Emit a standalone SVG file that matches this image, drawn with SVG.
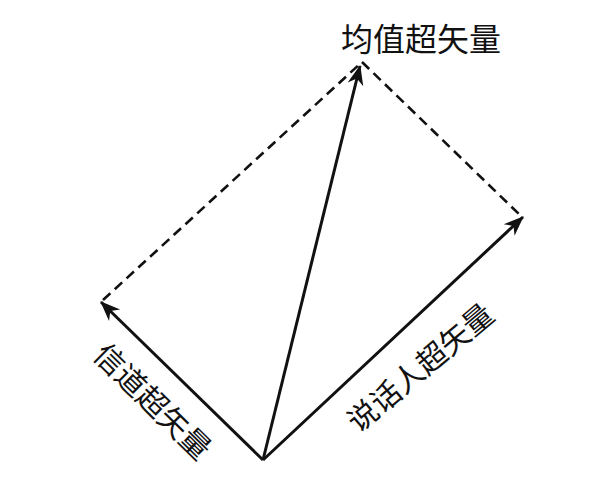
<svg xmlns="http://www.w3.org/2000/svg" width="600" height="502" viewBox="0 0 600 502">
<defs>
<style>
.lbl{font-family:"Noto Sans CJK SC","Noto Sans",sans-serif;font-size:30px;fill:#111;text-anchor:middle;dominant-baseline:central}
.vec{stroke:#111;stroke-width:3;fill:none}
.dash{stroke:#111;stroke-width:2.6;fill:none;stroke-dasharray:10 6}
</style>
<marker id="ah" viewBox="-20 -9 22 18" refX="0" refY="0" markerWidth="22" markerHeight="18" markerUnits="userSpaceOnUse" orient="auto">
<path d="M1,0 L-19,-8 L-13,0 L-19,8 Z" fill="#111"/>
</marker>
</defs>
<rect width="600" height="502" fill="#fff"/>
<g id="connectors">
<line class="dash" x1="103" y1="300" x2="362" y2="62"/>
<line class="dash" x1="362" y1="62" x2="521" y2="216"/>
<line class="vec" x1="263" y1="460" x2="101" y2="302" marker-end="url(#ah)"/>
<line class="vec" x1="263" y1="460" x2="523" y2="217" marker-end="url(#ah)"/>
<line class="vec" x1="263" y1="460" x2="360" y2="66" marker-end="url(#ah)"/>
</g>
<g id="mean">
<text class="lbl" x="421" y="37" style="font-size:32px">均值超矢量</text>
</g>
<g id="channel">
<text class="lbl" transform="translate(154,400) rotate(44.5)">信道超矢量</text>
</g>
<g id="speaker">
<text class="lbl" transform="translate(419,366) rotate(-40)">说话人超矢量</text>
</g>
</svg>
